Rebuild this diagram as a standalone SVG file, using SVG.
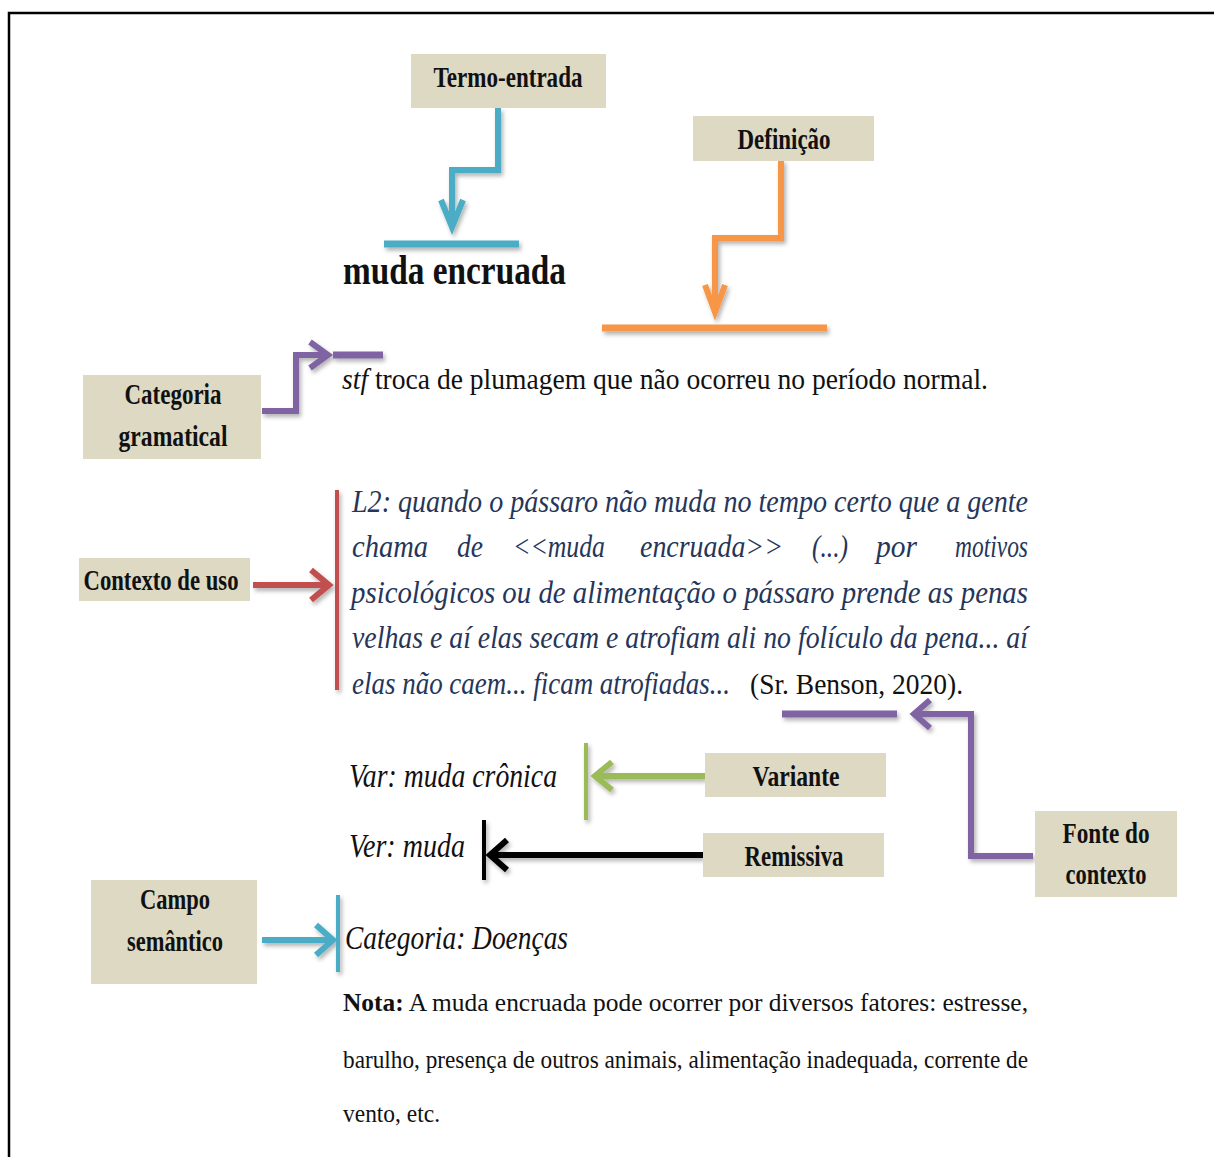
<svg xmlns="http://www.w3.org/2000/svg" width="1214" height="1157" viewBox="0 0 1214 1157">
<style>
.box{fill:#ddd9c3}
.lbl{font-family:"Liberation Serif","Times New Roman",serif;font-weight:bold;font-size:30px;fill:#111;text-anchor:middle}
.conn{fill:none;stroke-width:6;stroke-linejoin:miter;stroke-linecap:butt}
.bar{fill:none;stroke-width:7}
.vbar{fill:none;stroke-width:4}
.ser{font-family:"Liberation Serif","Times New Roman",serif;fill:#111}
.it{font-style:italic}
.ctx{font-family:"Liberation Serif","Times New Roman",serif;font-style:italic;font-size:31px;fill:#25365a}
.cyan{stroke:#4bacc6}.orange{stroke:#f79646}.purple{stroke:#8064a2}.red{stroke:#c0504d}.green{stroke:#9bbb59}.black{stroke:#000}
</style>
<defs>
<filter id="sh" x="-20%" y="-20%" width="140%" height="160%">
<feDropShadow dx="2" dy="3" stdDeviation="2" flood-color="#000" flood-opacity="0.3"/>
</filter>
</defs>
<rect x="0" y="0" width="1214" height="1157" fill="#fff"/>
<rect x="9" y="13" width="1220" height="1160" fill="none" stroke="#000" stroke-width="2.5"/>

<g id="connectors" filter="url(#sh)">
<polyline class="conn cyan" points="498,108 498,170 452,170 452,225"/>
<polyline class="conn cyan" points="441,200 452,227 463,200"/>
<line class="bar cyan" x1="384" y1="244" x2="519" y2="244"/>

<polyline class="conn orange" points="781,160 781,238 715,238 715,310"/>
<polyline class="conn orange" points="705,285 715,312 725,285"/>
<line class="bar orange" x1="602" y1="328" x2="827" y2="328"/>

<polyline class="conn purple" points="262,411 296,411 296,355 326,355"/>
<polyline class="conn purple" points="310,342 328,355 310,368"/>
<line class="bar purple" x1="333" y1="355" x2="383" y2="355"/>

<line class="conn red" x1="253" y1="585" x2="327" y2="585"/>
<polyline class="conn red" points="311,570 329,585 311,600"/>
<line class="vbar red" x1="337" y1="490" x2="337" y2="690"/>

<line class="conn green" x1="705" y1="776" x2="597" y2="776"/>
<polyline class="conn green" points="612,762 595,776 612,790"/>
<line class="vbar green" x1="586" y1="743" x2="586" y2="820"/>

<line class="conn black" x1="703" y1="855" x2="493" y2="855" stroke-width="7"/>
<polyline class="conn black" points="507,840 490,855 507,870"/>
<line class="vbar black" x1="484" y1="820" x2="484" y2="880"/>

<polyline class="conn purple" points="1033,856 971,856 971,714 916,714"/>
<polyline class="conn purple" points="930,700 914,714 930,728"/>
<line class="bar purple" x1="782" y1="714" x2="897" y2="714" stroke-width="6"/>

<line class="conn cyan" x1="262" y1="940" x2="331" y2="940"/>
<polyline class="conn cyan" points="316,925 333,940 316,955"/>
<line class="vbar cyan" x1="338" y1="895" x2="338" y2="972"/>
</g>

<g id="termo-entrada">
<rect class="box" x="411" y="54" width="195" height="54"/>
<text class="lbl" x="508" y="87" textLength="149" lengthAdjust="spacingAndGlyphs">Termo-entrada</text>
</g>
<g id="definicao">
<rect class="box" x="693" y="116" width="181" height="45"/>
<text class="lbl" x="784" y="149" textLength="93" lengthAdjust="spacingAndGlyphs">Definição</text>
</g>
<g id="categoria-gramatical">
<rect class="box" x="83" y="375" width="178" height="84"/>
<text class="lbl" x="173" y="404" textLength="97" lengthAdjust="spacingAndGlyphs">Categoria</text>
<text class="lbl" x="173" y="446" textLength="109" lengthAdjust="spacingAndGlyphs">gramatical</text>
</g>
<g id="contexto-de-uso">
<rect class="box" x="79" y="558" width="171" height="43"/>
<text class="lbl" x="161" y="590" textLength="155" lengthAdjust="spacingAndGlyphs">Contexto de uso</text>
</g>
<g id="variante">
<rect class="box" x="705" y="753" width="181" height="44"/>
<text class="lbl" x="796" y="786" textLength="87" lengthAdjust="spacingAndGlyphs">Variante</text>
</g>
<g id="remissiva">
<rect class="box" x="703" y="833" width="181" height="44"/>
<text class="lbl" x="794" y="866" textLength="99" lengthAdjust="spacingAndGlyphs">Remissiva</text>
</g>
<g id="fonte-do-contexto">
<rect class="box" x="1035" y="811" width="142" height="86"/>
<text class="lbl" x="1106" y="843" textLength="87" lengthAdjust="spacingAndGlyphs">Fonte do</text>
<text class="lbl" x="1106" y="884" textLength="81" lengthAdjust="spacingAndGlyphs">contexto</text>
</g>
<g id="campo-semantico">
<rect class="box" x="91" y="880" width="166" height="104"/>
<text class="lbl" x="175" y="909" textLength="70" lengthAdjust="spacingAndGlyphs">Campo</text>
<text class="lbl" x="175" y="951" textLength="96" lengthAdjust="spacingAndGlyphs">semântico</text>
</g>

<g id="entry-text">
<text class="ser" x="343" y="284" font-size="42" font-weight="bold" textLength="223" lengthAdjust="spacingAndGlyphs">muda encruada</text>
<text class="ser" x="342" y="389" font-size="30" textLength="646" lengthAdjust="spacingAndGlyphs"><tspan font-style="italic">stf</tspan> troca de plumagem que não ocorreu no período normal.</text>

<text class="ctx" x="352" y="512" textLength="676" lengthAdjust="spacingAndGlyphs">L2: quando o pássaro não muda no tempo certo que a gente</text>
<text class="ctx" x="352" y="557" textLength="76" lengthAdjust="spacingAndGlyphs">chama</text>
<text class="ctx" x="457" y="557" textLength="26" lengthAdjust="spacingAndGlyphs">de</text>
<text class="ctx" x="513" y="557" textLength="92" lengthAdjust="spacingAndGlyphs">&lt;&lt;muda</text>
<text class="ctx" x="640" y="557" textLength="143" lengthAdjust="spacingAndGlyphs">encruada&gt;&gt;</text>
<text class="ctx" x="812" y="557" textLength="36" lengthAdjust="spacingAndGlyphs">(...)</text>
<text class="ctx" x="876" y="557" textLength="41" lengthAdjust="spacingAndGlyphs">por</text>
<text class="ctx" x="955" y="557" textLength="73" lengthAdjust="spacingAndGlyphs">motivos</text>
<text class="ctx" x="351" y="603" textLength="677" lengthAdjust="spacingAndGlyphs">psicológicos ou de alimentação o pássaro prende as penas</text>
<text class="ctx" x="352" y="648" textLength="676" lengthAdjust="spacingAndGlyphs">velhas e aí elas secam e atrofiam ali no folículo da pena... aí</text>
<text class="ctx" x="0" y="0" font-size="29" transform="translate(352,694) scale(0.87,1)">elas não caem... ficam atrofiadas...</text>
<text class="ser" x="750" y="694" font-size="29" textLength="213" lengthAdjust="spacingAndGlyphs">(Sr. Benson, 2020).</text>

<text class="ser it" x="349" y="787" font-size="34" textLength="208" lengthAdjust="spacingAndGlyphs">Var: muda crônica</text>
<text class="ser it" x="349" y="857" font-size="34" textLength="116" lengthAdjust="spacingAndGlyphs">Ver: muda</text>
<text class="ser it" x="345" y="949" font-size="34" textLength="223" lengthAdjust="spacingAndGlyphs">Categoria: Doenças</text>

<text class="ser" x="343" y="1011" font-size="26" textLength="685" lengthAdjust="spacingAndGlyphs"><tspan font-weight="bold">Nota:</tspan>  A muda encruada pode ocorrer por diversos fatores: estresse,</text>
<text class="ser" x="343" y="1068" font-size="26" textLength="685" lengthAdjust="spacingAndGlyphs">barulho, presença de outros animais, alimentação inadequada, corrente de</text>
<text class="ser" x="343" y="1122" font-size="26" textLength="97" lengthAdjust="spacingAndGlyphs">vento, etc.</text>
</g>
</svg>
